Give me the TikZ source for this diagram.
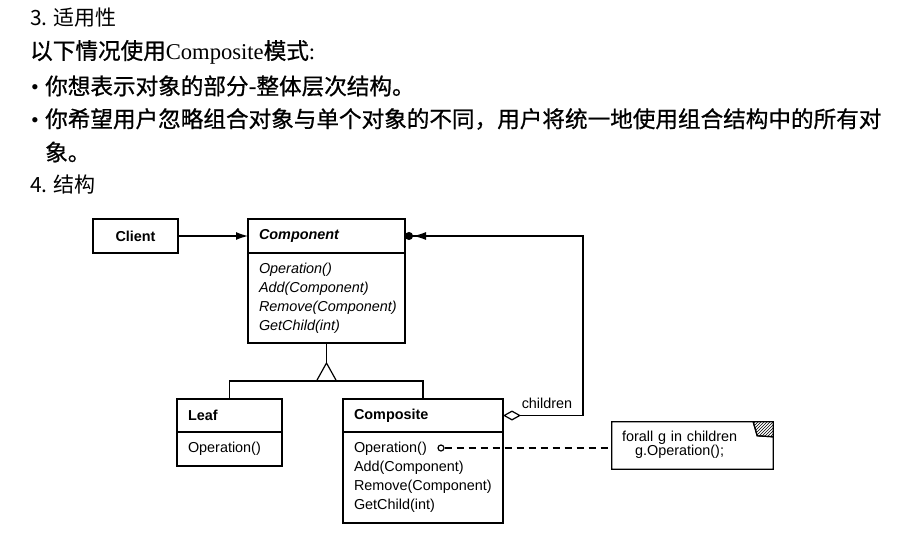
\documentclass[tikz,border=0pt]{standalone}
\usepackage{fontspec}
\setmainfont{Liberation Serif}
\setsansfont{Liberation Sans}
\newfontfamily\cjk[FakeBold=0.8]{Noto Sans CJK SC}
\newfontfamily\cjkhead{Noto Sans CJK SC}
\usetikzlibrary{positioning, arrows.meta, patterns}
\newcommand{\itembullet}{{\fontsize{22}{22}\selectfont\textbullet}\hspace{6.3pt}}
\tikzset{
    umlline/.style={line width=1.2pt},
    heading/.style={anchor=west, inner sep=0pt, font=\cjkhead\fontsize{21}{21}\selectfont},
    bodytext/.style={anchor=west, inner sep=0pt, font=\fontsize{22.6}{22.6}\selectfont},
    classbox/.style={draw, umlline, minimum width=85pt, minimum height=34pt, font=\sffamily\bfseries\fontsize{14.4}{19}\selectfont},
    classhead/.style={draw, umlline, anchor=north west, outer sep=0pt, inner xsep=11pt, inner ysep=0pt, align=left, font=\sffamily\bfseries\fontsize{14.4}{19}\selectfont},
    classbody/.style={draw, umlline, outer sep=0pt, inner xsep=11pt, align=left, font=\sffamily\fontsize{14.4}{19}\selectfont},
    abstractbody/.style={classbody, font=\sffamily\itshape\fontsize{14.4}{19}\selectfont},
    notetext/.style={minimum width=161pt, minimum height=47pt, text width=141pt, inner xsep=10pt, align=left, font=\sffamily\fontsize{14.4}{14}\selectfont},
    arrow/.style={umlline, -{Latex[length=12pt, width=8pt]}},
    notelink/.style={umlline, dash pattern=on 7pt off 5pt}
}
\begin{document}
\begin{tikzpicture}[x=1pt, y=1pt]
    \useasboundingbox (0,0) rectangle (905,-538);

    % Text
    \node[heading] (applic) at (30,-18) {3. 适用性};
    \node[bodytext] (usage) at (30,-52) {{\cjk 以下情况使用}Composite{\cjk 模式}:};
    \node[bodytext] (item1) at (31,-86) {\itembullet{\cjk 你想表示对象的部分-整体层次结构。}};
    \node[bodytext] (item2) at (31,-119) {\itembullet{\cjk 你希望用户忽略组合对象与单个对象的不同，用户将统一地使用组合结构中的所有对}};
    \node[bodytext] (item2b) at (45,-152) {\cjk 象。};
    \node[heading] (struct) at (30,-185) {4. 结构};

    % Classes
    \node[classbox] (client) at (135.5,-236) {Client};

    \node[classhead, text width=135pt, minimum height=34pt] (comphead) at (248,-219) {\itshape Component};
    \node[abstractbody, text width=135pt, minimum height=90pt, below=0pt of comphead] (compbody) {Operation()\\Add(Component)\\Remove(Component)\\GetChild(int)};

    \node[classhead, text width=83pt, minimum height=33pt] (leafhead) at (177,-399) {Leaf};
    \node[classbody, text width=83pt, minimum height=34pt, below=0pt of leafhead] (leafbody) {Operation()};

    \node[classhead, text width=138pt, minimum height=33pt] (cmphead) at (343,-399) {Composite};
    \node[classbody, text width=138pt, minimum height=91pt, below=0pt of cmphead] (cmpbody) {Operation()\\Add(Component)\\Remove(Component)\\GetChild(int)};

    % Note
    \node[notetext] (note) at (692.5,-445.5) {\begin{tabular}{@{}c@{}}forall g in children\\g.Operation();\end{tabular}};
    \draw[umlline] (note.north west) -- ([xshift=-20pt]note.north east) -- ([xshift=-16pt, yshift=-14pt]note.north east) -- ([yshift=-15pt]note.north east) -- (note.south east) -- (note.south west) -- cycle;
    \draw[umlline, pattern=north east lines] ([xshift=-20pt]note.north east) -- (note.north east) -- ([yshift=-15pt]note.north east) -- ([xshift=-16pt, yshift=-14pt]note.north east) -- cycle;

    % Connectors
    \draw[arrow] (client) -- (comphead);

    \draw[umlline] (compbody.south) -- ++(0,-20) coordinate (apex);
    \draw[umlline] (apex) -- ++(-10,-18) -- ++(20,0) -- cycle;
    \draw[umlline] (leafhead.north) -- ++(0,18) -| (cmphead.north);

    \draw[umlline, {Diamond[open, length=18pt, width=10pt]}-{Latex[length=13pt, width=8pt] Circle[length=8pt]}] (cmphead.east) -- ++(80,0) node[midway, above=3pt, xshift=4pt, font=\sffamily\fontsize{14.4}{19}\selectfont] {children} |- (comphead.east);

    \node[circle, draw, umlline, inner sep=0pt, minimum size=6pt] (opdot) at (441,-448) {};
    \draw[notelink] (opdot) -- (opdot -| note.west);
\end{tikzpicture}
\end{document}
